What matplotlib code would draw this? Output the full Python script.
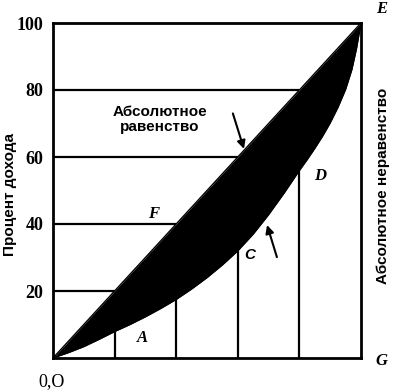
import matplotlib
matplotlib.use("Agg")
import matplotlib.pyplot as plt
import numpy as np

# Lorenz curve data (cumulative % of population vs cumulative % of income)
pop_share = [0, 5, 10, 15, 20, 25, 30, 35, 40, 45, 50, 55, 60, 65, 70, 75,
             80, 82.5, 85, 87.5, 90, 92.5, 95, 97, 98.5, 100]
income_share = [0, 1.6, 3.4, 5.6, 7.9, 10.0, 12.3, 14.8, 17.5, 20.6, 24.0,
                27.8, 32.0, 37.0, 42.8, 49.2, 56.0, 59.2, 62.6, 66.2, 70.2,
                74.8, 80.2, 86.0, 92.2, 100]
quintiles = [20, 40, 60, 80]
yticks = [20, 40, 60, 80, 100]
ytick_labels = ["20", "40", "60", "80", "100"]
ylabel = "Процент дохода"
right_label = "Абсолютное неравенство"
equality_label = "Абсолютное\nравенство"

W, H = 394, 391
fig = plt.figure(figsize=(W / 100, H / 100), dpi=100)
ax = fig.add_axes([53 / W, 1 - 358 / H, (361 - 53) / W, (358 - 23) / H])
ax.set_xlim(0, 100)
ax.set_ylim(0, 100)

x = np.array(pop_share, dtype=float)
y = np.array(income_share, dtype=float)

# black area between equality line and Lorenz curve
ax.fill_between(x, y, x, color="black", lw=0)
ax.plot(x, x, color="black", lw=1)
ax.plot(x, y, color="black", lw=1)

# horizontal lines from axis to diagonal
for q in quintiles:
    ax.plot([0, q], [q, q], color="black", lw=1.6, solid_capstyle="butt")
# vertical lines from bottom to Lorenz curve
for q in quintiles:
    top = np.interp(q, x, y)
    ax.plot([q, q], [0, top], color="black", lw=1.6, solid_capstyle="butt")

for s in ax.spines.values():
    s.set_linewidth(2)
ax.set_xticks([])
ax.set_yticks(yticks)
ax.set_yticklabels(ytick_labels, fontfamily="Liberation Serif", fontweight="bold",
                   fontsize=13)
ax.tick_params(axis="y", length=0, pad=7)

# text annotations
ax.text(34.7, 71.3, equality_label, ha="center", va="center",
        fontfamily="Liberation Sans", fontsize=11, fontweight="bold",
        linespacing=1.1)
ax.annotate("", xy=(62.0, 62.4), xytext=(58.4, 73.0),
            arrowprops=dict(arrowstyle="-|>", color="black", lw=1.5,
                            mutation_scale=12, shrinkA=0, shrinkB=0))
ax.annotate("", xy=(69.5, 39.7), xytext=(72.7, 30.1),
            arrowprops=dict(arrowstyle="-|>", color="black", lw=1.5,
                            mutation_scale=12, shrinkA=0, shrinkB=0))

letter_kw = dict(ha="center", va="center", fontfamily="Liberation Serif",
                 fontsize=12, fontweight="bold", fontstyle="italic",
                 clip_on=False)
ax.text(32.8, 43.0, "F", **letter_kw)
ax.text(28.9, 6.0, "A", **letter_kw)
ax.text(64.0, 30.7, "C", **dict(letter_kw, fontfamily="Liberation Sans",
                                fontsize=11))
ax.text(86.7, 54.3, "D", **letter_kw)
ax.text(106.8, 104.3, "E", **letter_kw)
ax.text(106.5, -0.9, "G", **letter_kw)
ax.text(-0.6, -6.9, "0,O", ha="center", va="center",
        fontfamily="Liberation Serif", fontsize=13, clip_on=False)

fig.text(10 / W, 1 - 194 / H, ylabel, rotation=90, ha="center", va="center",
         fontfamily="Liberation Sans", fontsize=11, fontweight="bold")
fig.text(383 / W, 1 - 186 / H, right_label, rotation=90, ha="center",
         va="center", fontfamily="Liberation Sans", fontsize=11,
         fontweight="bold")

fig.savefig("out.png", dpi=100, facecolor="white")
